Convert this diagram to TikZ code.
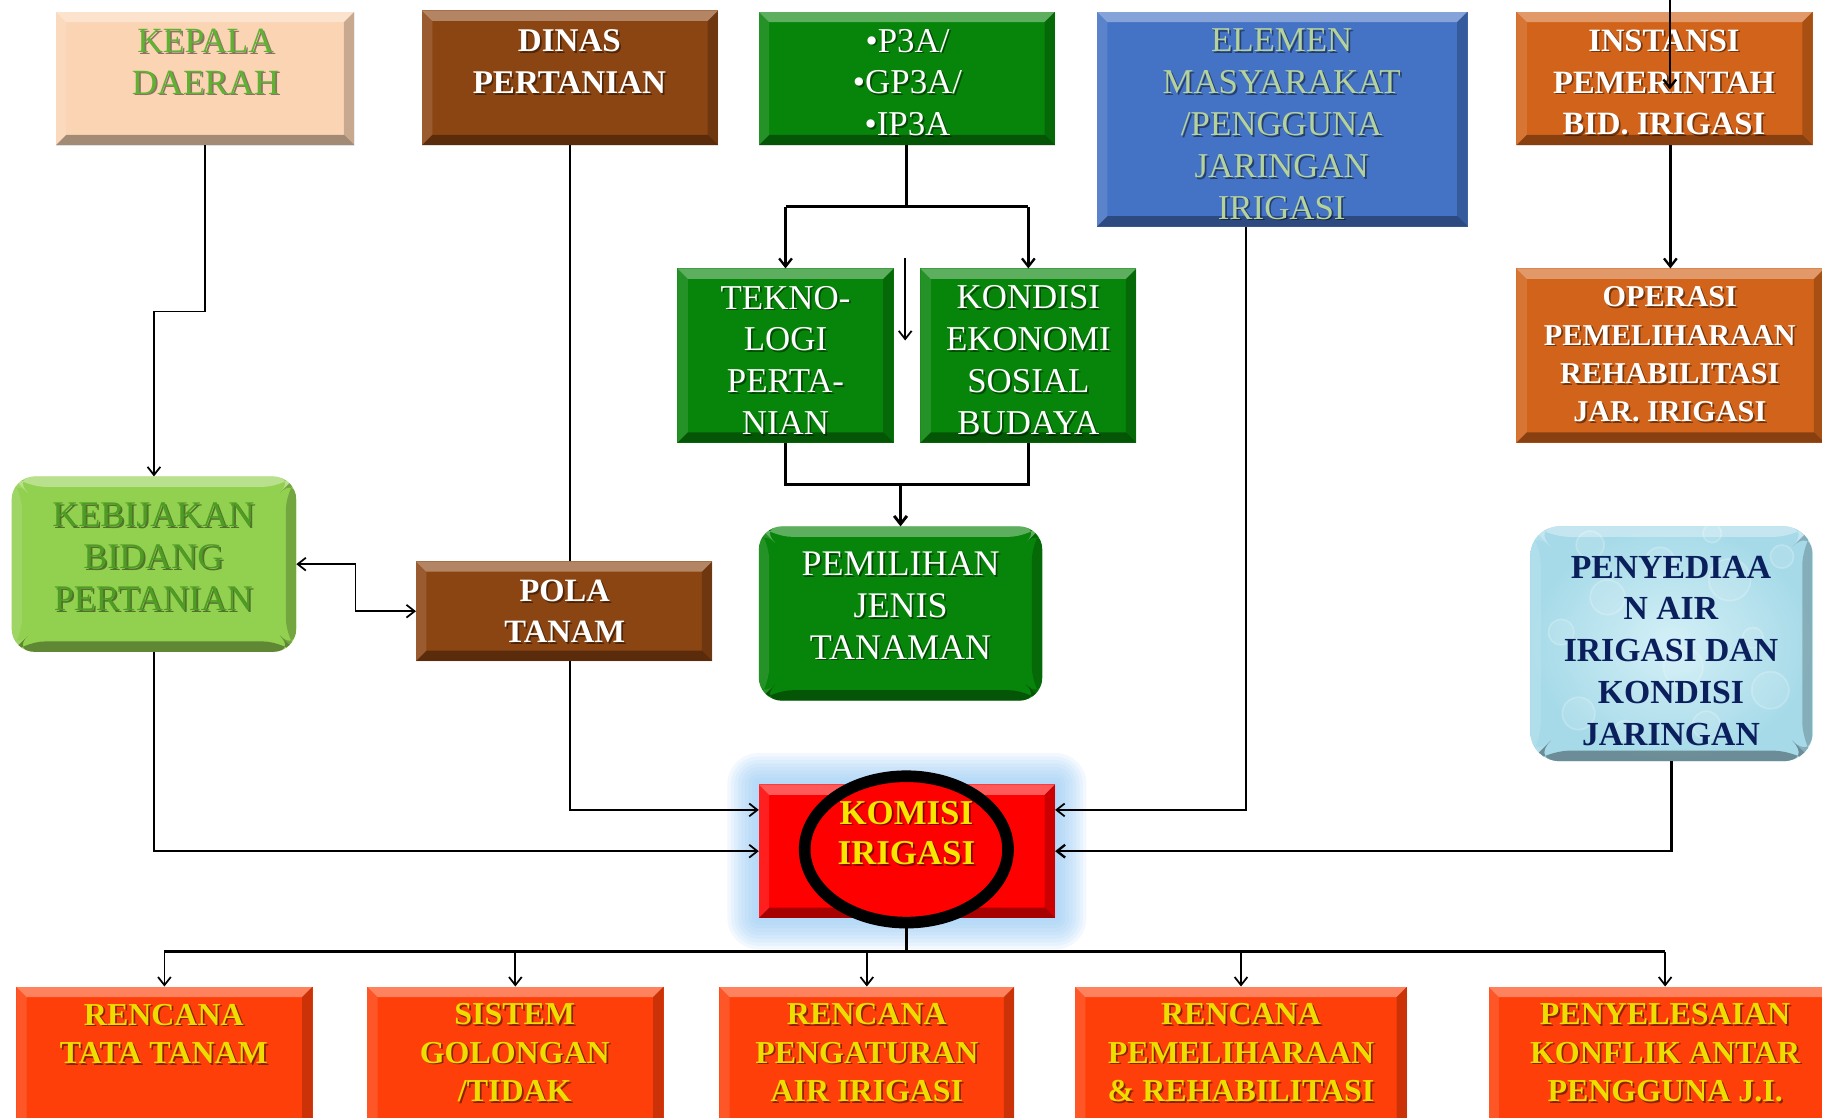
\documentclass[tikz,border=0pt]{standalone}
\usepackage{fontspec}
\setmainfont{Liberation Serif}
\usetikzlibrary{arrows.meta,shapes.geometric,backgrounds}

\definecolor{peach}{HTML}{FBD4B4}
\definecolor{kgreen}{HTML}{5FB232}
\definecolor{brownbox}{HTML}{8B4513}
\definecolor{greenbox}{HTML}{07840A}
\definecolor{bluebox}{HTML}{4472C4}
\definecolor{elemtext}{HTML}{B4D29C}
\definecolor{orangebox}{HTML}{D2631A}
\definecolor{lgreen}{HTML}{92D050}
\definecolor{lgtext}{HTML}{4E9C24}
\definecolor{redbox}{HTML}{FF0000}
\definecolor{glowc}{HTML}{9CCEF8}
\definecolor{ybox}{HTML}{FF3F0A}
\definecolor{ytext}{HTML}{EEDD00}
\definecolor{navy}{HTML}{0B1F5C}
\definecolor{waterin}{HTML}{D4F0F7}
\definecolor{waterout}{HTML}{A6DAE8}
\definecolor{komtext}{HTML}{F7E600}

\newcommand\fsz[2]{\fontsize{#1}{#2}\selectfont}
\newcommand\mkbox[6]{\node[#2, minimum width={(#5)-(#3)}, minimum height={(#6)-(#4)}, anchor=north west] (#1) at (#3,#4) {};}
\newcommand\boxtext[5]{%
  \node[txt, #4, text=black, text opacity=.45] (#1s) at (#2+1.5,#3+1.5) {#5};
  \node[txt, #4] (#1) at (#2,#3) {#5};}
\newcommand\bevelcode{%
    \coordinate (bnw) at (path picture bounding box.north west);
    \coordinate (bne) at (path picture bounding box.north east);
    \coordinate (bsw) at (path picture bounding box.south west);
    \coordinate (bse) at (path picture bounding box.south east);
    \fill[white,opacity=.35] (bnw) -- (bne) -- ([shift={(-9pt,-9pt)}]bne) -- ([shift={(9pt,-9pt)}]bnw) -- cycle;
    \fill[black,opacity=.35] (bsw) -- (bse) -- ([shift={(-9pt,9pt)}]bse) -- ([shift={(9pt,9pt)}]bsw) -- cycle;
    \fill[white,opacity=.12] (bnw) -- ([shift={(9pt,-9pt)}]bnw) -- ([shift={(9pt,9pt)}]bsw) -- (bsw) -- cycle;
    \fill[black,opacity=.2] (bne) -- ([shift={(-9pt,-9pt)}]bne) -- ([shift={(-9pt,9pt)}]bse) -- (bse) -- cycle;}

\tikzset{
  bevel/.style={path picture={\bevelcode}},
  waterfx/.style={path picture={
    \coordinate (wc) at (path picture bounding box.center);
    \foreach \bx/\by/\br in {-80/-60/14, -40/-75/9, 30/-70/12, 85/-40/16, -95/10/11, -55/40/15,
                             -10/70/13, 50/55/18, 95/75/10, 10/-20/17, 70/5/9, -70/85/12, 35/95/8} {
      \draw[white, opacity=.22, line width=1.5pt] ([shift={(\bx pt,\by pt)}]wc) circle (\br pt);
      \fill[white, opacity=.1] ([shift={(\bx pt,\by pt)}]wc) circle (\br pt);
    }
    \bevelcode}},
  box/.style={rectangle, inner sep=0pt, outer sep=0pt, fill=#1, bevel},
  rbox/.style={rectangle, rounded corners=20pt, inner sep=0pt, outer sep=0pt, fill=#1, bevel},
  txt/.style={align=center, inner sep=0pt},
  conn/.style={draw=black, line width=1.5pt},
  arr/.style={conn, -{Straight Barb[length=7pt,width=11pt]}},
  dblarr/.style={conn, {Straight Barb[length=7pt,width=11pt]}-{Straight Barb[length=7pt,width=11pt]}},
}

\begin{document}
\begin{tikzpicture}[x=1pt,y=-1pt]
\useasboundingbox (0,0) rectangle (1568,962);
\clip (0,0) rectangle (1568,962);

% ---------- boxes ----------
\mkbox{kepala}{box=peach}{48}{10}{305}{125}
\mkbox{dinas}{box=brownbox}{363}{9}{618}{125}
\mkbox{p3a}{box=greenbox}{653}{10}{908}{125}
\mkbox{elemen}{box=bluebox}{944}{10}{1263}{195}
\mkbox{instansi}{box=orangebox}{1305}{10}{1560}{125}
\mkbox{tekno}{box=greenbox}{583}{231}{769}{381}
\mkbox{kondisi}{box=greenbox}{792}{231}{978}{381}
\mkbox{operasi}{box=orangebox}{1305}{231}{1570}{381}
\mkbox{kebijakan}{rbox=lgreen}{10}{410}{255}{561}
\mkbox{pola}{box=brownbox}{358}{483}{613}{569}
\mkbox{pemilihan}{rbox=greenbox}{653}{453}{897}{603}
\mkbox{penyediaan}{rbox=waterout, inner color=waterin, outer color=waterout, rounded corners=25pt, waterfx}{1317}{453}{1560}{655}
\mkbox{komisi}{box=redbox}{653}{675}{908}{790}
\mkbox{b1}{box=ybox}{14}{849}{269}{990}
\mkbox{b2}{box=ybox}{316}{849}{571}{990}
\mkbox{b3}{box=ybox}{619}{849}{873}{990}
\mkbox{b4}{box=ybox}{925}{849}{1211}{990}
\mkbox{b5}{box=ybox}{1281}{849}{1585}{990}

% glow behind KOMISI
\begin{pgfonlayer}{background}
\fill[white] (0,0) rectangle (1568,962);
\foreach \g in {3,6,...,27} {
  \fill[glowc, opacity=0.13, rounded corners=\g pt]
    ([shift={(-\g pt,\g pt)}]komisi.north west) rectangle ([shift={(\g pt,-\g pt)}]komisi.south east);
}
\end{pgfonlayer}

\node[ellipse, draw=black, line width=10pt, fill=redbox, minimum width=175pt, minimum height=126pt, inner sep=0pt] (ring) at (780,731) {};

% ---------- texts ----------
\boxtext{kepalaT}{177}{53}{text=kgreen, font=\fsz{30.5}{36}}{KEPALA\\DAERAH}
\boxtext{dinasT}{490}{53}{text=white, font=\fsz{28.5}{36}\bfseries}{DINAS\\PERTANIAN}
\boxtext{p3aT}{781}{71}{text=white, font=\fsz{30}{36}}{•P3A/\\•GP3A/\\•IP3A}
\boxtext{elemenT}{1103}{107}{text=elemtext, font=\fsz{30}{36}}{ELEMEN\\MASYARAKAT\\/PENGGUNA\\JARINGAN\\IRIGASI}
\boxtext{instansiT}{1432}{71}{text=white, font=\fsz{28}{36}\bfseries}{INSTANSI\\PEMERINTAH\\BID. IRIGASI}
\boxtext{teknoT}{676}{310}{text=white, font=\fsz{30}{36}}{TEKNO-\\LOGI\\PERTA-\\NIAN}
\boxtext{kondisiT}{885}{310}{text=white, font=\fsz{30}{36}}{KONDISI\\EKONOMI\\SOSIAL\\BUDAYA}
\boxtext{operasiT}{1437}{305}{text=white, font=\fsz{26}{33}\bfseries}{OPERASI\\PEMELIHARAAN\\REHABILITASI\\JAR. IRIGASI}
\boxtext{kebijakanT}{132}{479}{text=lgtext, font=\fsz{31}{36}}{KEBIJAKAN\\BIDANG\\PERTANIAN}
\boxtext{polaT}{486}{526}{text=white, font=\fsz{28}{35}\bfseries}{POLA\\TANAM}
\boxtext{pemilihanT}{775}{521}{text=white, font=\fsz{31}{36}}{PEMILIHAN\\JENIS\\TANAMAN}
\node[txt, text=navy, font=\fsz{29}{36}\bfseries] (penyediaanT) at (1438,560) {PENYEDIAA\\N AIR\\IRIGASI DAN\\KONDISI\\JARINGAN};
\boxtext{komisiT}{780}{717}{text=komtext, font=\fsz{30}{35}\bfseries}{KOMISI\\IRIGASI}
\boxtext{b1T}{141}{889.5}{text=ytext, font=\fsz{27.5}{33}\bfseries}{RENCANA\\TATA TANAM}
\boxtext{b2T}{443}{906}{text=ytext, font=\fsz{27.5}{33}\bfseries}{SISTEM\\GOLONGAN\\/TIDAK}
\boxtext{b3T}{746}{906}{text=ytext, font=\fsz{27.5}{33}\bfseries}{RENCANA\\PENGATURAN\\AIR IRIGASI}
\boxtext{b4T}{1068}{906}{text=ytext, font=\fsz{27.5}{33}\bfseries}{RENCANA\\PEMELIHARAAN\\\& REHABILITASI}
\boxtext{b5T}{1433}{906}{text=ytext, font=\fsz{27.5}{33}\bfseries}{PENYELESAIAN\\KONFLIK ANTAR\\PENGGUNA J.I.}

% ---------- connectors ----------
\coordinate (strayTop) at (1437,-5);
\coordinate (strayEnd) at (1437,77);
\draw[arr, line width=2pt] (strayTop) -- (strayEnd);
\coordinate (midTop) at (779,222);
\coordinate (midEnd) at (779,293);
\draw[arr] (midTop) -- (midEnd);

\draw[arr] (kepala.south) -- ++(0,143) -| (kebijakan.north);
\draw[conn] (dinas.south) -- (dinas.south |- pola.north);
\draw[arr] (pola.south -| dinas.south) |- ([yshift=35.5pt]komisi.west);
\draw[arr] (kebijakan.south) |- (komisi.west);
\draw[dblarr] (kebijakan.east) -- ++(51,0) |- (pola.west);

\draw[conn, line width=2.5pt] (p3a.south) -- ++(0,53) coordinate (psplit);
\draw[conn, line width=2.5pt] (tekno.north |- psplit) -- (kondisi.north |- psplit);
\draw[arr, line width=2pt] (tekno.north |- psplit) -- (tekno.north);
\draw[arr, line width=2pt] (kondisi.north |- psplit) -- (kondisi.north);

\draw[conn, line width=2pt] (tekno.south) -- ++(0,36) coordinate (tjoin) -- (tjoin -| kondisi.south) -- (kondisi.south);
\draw[arr, line width=2.5pt] (tjoin -| pemilihan.north) -- (pemilihan.north);

\draw[arr, line width=2pt] (operasi.north |- instansi.south) -- (operasi.north);
\draw[arr] ([xshift=-31.5pt]elemen.south) |- ([yshift=35.5pt]komisi.east);
\draw[arr, line width=2pt] (penyediaan.south) |- (komisi.east);

\draw[conn, line width=3pt] (ring.south) -- ++(0,20) coordinate (bus);
\draw[conn, line width=3pt] (b1.north |- bus) -- (b5.north |- bus);
\foreach \b in {b1,b2,b3,b4,b5} {
  \draw[arr] (\b.north |- bus) -- (\b.north);
}
\end{tikzpicture}
\end{document}
